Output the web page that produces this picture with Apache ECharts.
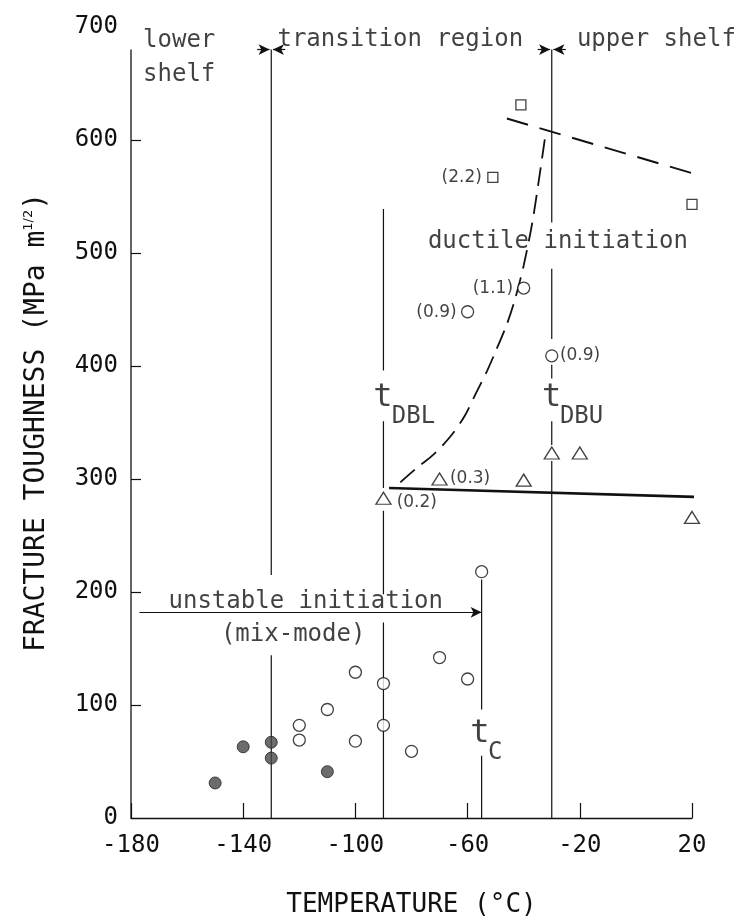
<!DOCTYPE html>
<html><head><meta charset="utf-8">
<script src="https://cdn.jsdelivr.net/npm/echarts@6/dist/echarts.min.js"></script>
<style>html,body{margin:0;padding:0;background:#fff}#c{width:748px;height:923px}</style>
</head><body><div id="c"></div>
<script>
// ---- data ----
const xTickValues = [-180, -140, -100, -60, -20, 20];
const yTickValues = [0, 100, 200, 300, 400, 500, 600, 700];

const filledCircles = [[-150,31],[-140,63],[-130,67],[-130,53],[-110,41]];
const openCircles = [[-120,82],[-120,69],[-110,96],[-100,129],[-100,68],[-90,119],[-90,82],[-80,59],[-70,142],[-60,123],[-55,218],[-60,448],[-40,469],[-30,409]];
const triangles = [[-90,283],[-70,300],[-40,299],[-30,323],[-20,323],[20,266]];
const squares = [[-41,631],[-51,567],[20,543]];
const upperShelfFit = [[-46,619],[25,567]];
const initiationFit = [[-88,292],[23,284]];
const transitionCurve = [[-84,297],[-78,310],[-72,322],[-66,338],[-61,356],[-57,376],[-53,396],[-50,413],[-46,437],[-43,460],[-40,489],[-37,526],[-34.5,566],[-32,609]];

// guide lines (temperatures and levels)
const regionLevel = 680;
const lowerShelfT = -130, tDBLT = -90, tCT = -55, tDBUT = -30;
const ductileLevel = 498, unstableLevel = 182;
const segLowerShelf = [[0,144],[215,680]];
const segDBL = [[0,173],[198,272],[292,351],[396,539]];
const segC = [[0,55],[96,211]];
const segDBU = [[0,316],[330,351],[389,401],[424,486],[527,680]];

// annotation texts
const monoTexts = ['lower','shelf','transition region','upper shelf','ductile initiation','unstable initiation','(mix-mode)','DBL','DBU','C'];
const monoTextPos = [[-175.7,688],[-175.7,658],[-84,689],[7.3,689],[-27.8,510],[-117.7,191],[-122.2,162],[-87,355],[-27.1,355],[-52.7,58]];
const monoTextAlign = ['left','left','center','center','center','center','center','left','left','left'];
const bigT = ['t','t','t'];
const bigTPos = [[-90.2,372],[-30,372],[-55.6,75]];
const smallTexts = ['(2.2)','(1.1)','(0.9)','(0.9)','(0.3)','(0.2)'];
const smallTextPos = [[-54.9,566.6],[-43.8,468.4],[-63.9,447],[-27.1,409],[-66.3,300.6],[-85.3,279]];
const smallTextAlign = ['right','right','right','left','left','left'];

// ---- helpers ----
const INK = '#111';
const MONO = '"DejaVu Sans Mono", monospace';
function vSeg(x, segs){
  const d = [];
  segs.forEach((s,i)=>{ if(i) d.push([x,'-']); d.push([x,s[0]],[x,s[1]]); });
  return d;
}
function guide(data){
  return {type:'line', data, symbol:'none', silent:true, clip:false, connectNulls:false,
    lineStyle:{color:INK, width:1.2}, z:2};
}
function textSeries(texts, pos, aligns, font, size){
  return {type:'scatter', symbolSize:0, silent:true, clip:false, z:6,
    data: texts.map((t,i)=>({value:pos[i], label:{formatter:t, align:aligns ? aligns[i] : 'center'}})),
    label:{show:true, position:'inside', fontFamily:font, fontSize:size, color:INK, verticalAlign:'middle'}};
}
const arrowEnd = (x,y)=>({coord:[x,y], symbol:'arrow', symbolSize:[8,11]});
const plainEnd = (x,y)=>({coord:[x,y], symbol:'none'});

const chart = echarts.init(document.getElementById('c'));
chart.setOption({
  backgroundColor:'#fff',
  animation:false,
  grid:{left:131, right:56, top:27, bottom:101, containLabel:false},
  xAxis:{type:'value', min:xTickValues[0], max:xTickValues[xTickValues.length-1], interval:40,
    axisLine:{onZero:false, lineStyle:{color:INK, width:1.3}},
    axisTick:{inside:true, length:15, lineStyle:{color:INK, width:1.2}},
    axisLabel:{fontFamily:MONO, fontSize:24, color:INK, margin:16},
    splitLine:{show:false},
    name:'TEMPERATURE (°C)', nameLocation:'middle', nameGap:74,
    nameTextStyle:{fontFamily:MONO, fontSize:26, color:INK}},
  yAxis:{type:'value', min:yTickValues[0], max:yTickValues[yTickValues.length-1], interval:100,
    axisLine:{show:false, onZero:false},
    axisTick:{inside:true, length:10, lineStyle:{color:INK, width:1.2}, customValues:[100,200,300,400,500,600]},
    axisLabel:{fontFamily:MONO, fontSize:24, color:INK, margin:13, padding:[0,0,16,0]},
    splitLine:{show:false},
    name:'FRACTURE TOUGHNESS (MPa m{s|1/2})', nameLocation:'middle', nameGap:80, nameRotate:90,
    nameTextStyle:{fontFamily:MONO, fontSize:28, color:INK,
      rich:{s:{fontFamily:'"DejaVu Sans", sans-serif', fontSize:13, color:INK, verticalAlign:'top', padding:[0,0,16,0]}}}},
  series:[
    Object.assign(guide([[xTickValues[0],0],[xTickValues[0],regionLevel]]), {
      lineStyle:{color:INK, width:1.3},
      markLine:{silent:true, symbol:['none','none'], label:{show:false},
        lineStyle:{color:INK, width:1.2, type:'solid'},
        emphasis:{disabled:true},
        data:[
          [plainEnd(xTickValues[0],regionLevel), plainEnd(36,regionLevel)],
          [plainEnd(27,ductileLevel), arrowEnd(tDBLT,ductileLevel)],
          [plainEnd(-177,unstableLevel), arrowEnd(tCT,unstableLevel)],
          [plainEnd(lowerShelfT-5,regionLevel), arrowEnd(lowerShelfT-0.6,regionLevel)],
          [plainEnd(lowerShelfT+5,regionLevel), arrowEnd(lowerShelfT+0.6,regionLevel)],
          [plainEnd(tDBUT-5,regionLevel), arrowEnd(tDBUT-0.6,regionLevel)],
          [plainEnd(tDBUT+5,regionLevel), arrowEnd(tDBUT+0.6,regionLevel)]
        ]}}),
    guide(vSeg(lowerShelfT, segLowerShelf)),
    guide(vSeg(tDBLT, segDBL)),
    guide(vSeg(tCT, segC)),
    guide(vSeg(tDBUT, segDBU)),
    {type:'line', data:upperShelfFit, symbol:'none', clip:false, silent:true, z:3,
      lineStyle:{color:INK, width:2, type:[22,12]}},
    {type:'line', data:transitionCurve, symbol:'none', smooth:0.3, clip:false, silent:true, z:3,
      lineStyle:{color:INK, width:1.8, type:[19,9]}},
    {type:'line', data:initiationFit, symbol:'none', clip:false, silent:true, z:3,
      lineStyle:{color:INK, width:2.6}},
    {type:'scatter', data:filledCircles, symbol:'circle', symbolSize:12, z:5,
      itemStyle:{color:'#474747', borderColor:'#222', borderWidth:1}},
    {type:'scatter', data:openCircles, symbol:'circle', symbolSize:12, z:5,
      itemStyle:{color:'#fff', borderColor:INK, borderWidth:1.3}},
    {type:'scatter', data:triangles, symbol:'triangle', symbolSize:[15,12], z:5, clip:false,
      itemStyle:{color:'#fff', borderColor:INK, borderWidth:1.3}},
    {type:'scatter', data:squares, symbol:'rect', symbolSize:10, z:5, clip:false,
      itemStyle:{color:'#fff', borderColor:INK, borderWidth:1.3}},
    textSeries(monoTexts, monoTextPos, monoTextAlign, MONO, 24),
    textSeries(bigT, bigTPos, null, MONO, 32),
    textSeries(smallTexts, smallTextPos, smallTextAlign, '"DejaVu Sans", sans-serif', 17)
  ]
});
</script></body></html>
